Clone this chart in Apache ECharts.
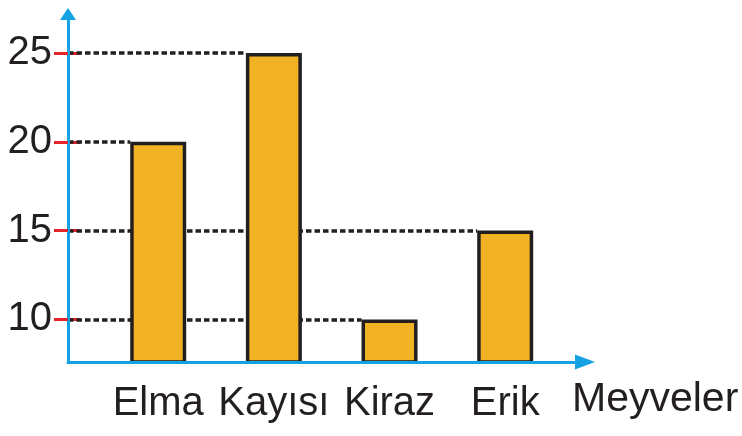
<!DOCTYPE html>
<html>
<head>
<meta charset="utf-8">
<script src="https://cdn.jsdelivr.net/npm/echarts@6/dist/echarts.min.js"></script>
<style>
  html, body { margin: 0; padding: 0; background: #fff; }
  #chart { width: 742px; height: 436px; }
</style>
</head>
<body>
<div id="chart"></div>
<script>
// veriler
var categories = ['Elma', 'Kayısı', 'Kiraz', 'Erik'];
var values = [20, 25, 10, 15];
var yTicks = [10, 15, 20, 25];
var xName = 'Meyveler';

var blue = '#14a2e2';
var red = '#e2242b';
var ink = '#231f20';
var font = '"Liberation Sans", Arial, sans-serif';

// x ekseni: kategoriler 1..4 konumunda
var xMin = 0.22, xMax = 4.69;
var yMin = 7.6, yMax = 27.2;
var gridLeft = 68, gridRight = 157;
var barWidth = 56;
// çubuğun yarı genişliği eksen biriminde (kesikli çizgi çubuğun kenarında bitsin)
var halfBar = (barWidth / 2) / ((742 - gridLeft - gridRight) / (xMax - xMin));

var chart = echarts.init(document.getElementById('chart'));

chart.setOption({
    animation: false,
    backgroundColor: '#fff',
    grid: { left: gridLeft, right: gridRight, top: 14, bottom: 74, outerBoundsMode: 'none' },
    xAxis: {
        type: 'value',
        min: xMin,
        max: xMax,
        z: 5,
        axisLine: {
            show: true,
            symbol: ['none', 'triangle'],
            symbolSize: [15, 20],
            lineStyle: { color: blue, width: 3 }
        },
        axisTick: { show: false },
        splitLine: { show: false },
        axisLabel: {
            customValues: categories.map(function (c, i) { return i + 1; }),
            formatter: function (v) { return categories[v - 1]; },
            fontSize: 40,
            fontFamily: font,
            color: ink,
            margin: 22
        },
        name: xName,
        nameLocation: 'end',
        nameGap: -13,
        nameTextStyle: {
            fontSize: 41,
            fontFamily: font,
            color: ink,
            align: 'left',
            verticalAlign: 'top',
            padding: [17, 0, 0, 0]
        }
    },
    yAxis: [
        {
            type: 'value',
            min: yMin,
            max: yMax,
            z: 5,
            axisLine: {
                show: true,
                symbol: ['none', 'triangle'],
                symbolSize: [16, 12],
                lineStyle: { color: blue, width: 3 }
            },
            axisTick: {
                show: true,
                customValues: yTicks,
                length: 14,
                lineStyle: { color: red, width: 3 }
            },
            axisLabel: {
                customValues: yTicks,
                fontSize: 40,
                fontFamily: font,
                color: ink,
                margin: 16
            },
            splitLine: { show: false }
        },
        {
            // iç taraftaki kırmızı çentikler (kesikli çizginin altında)
            type: 'value',
            position: 'left',
            min: yMin,
            max: yMax,
            z: 0,
            axisLine: { show: false },
            axisTick: {
                show: true,
                inside: true,
                customValues: yTicks,
                length: 12,
                lineStyle: { color: red, width: 3 }
            },
            axisLabel: { show: false },
            splitLine: { show: false }
        }
    ],
    series: [
        {
            type: 'bar',
            z: 3,
            barWidth: barWidth,
            data: values.map(function (v, i) { return [i + 1, v]; }),
            itemStyle: {
                color: '#f1b324',
                borderColor: ink,
                borderWidth: 3.5
            },
            markLine: {
                silent: true,
                z: 1,
                symbol: 'none',
                label: { show: false },
                lineStyle: { color: ink, width: 3.6, type: [5.5, 3] },
                // eksenden çubuğa kadar kesikli çizgiler
                data: values.map(function (v, i) {
                    return [{ coord: [xMin, v] }, { coord: [i + 1 - halfBar, v] }];
                })
            }
        }
    ]
});
</script>
</body>
</html>
